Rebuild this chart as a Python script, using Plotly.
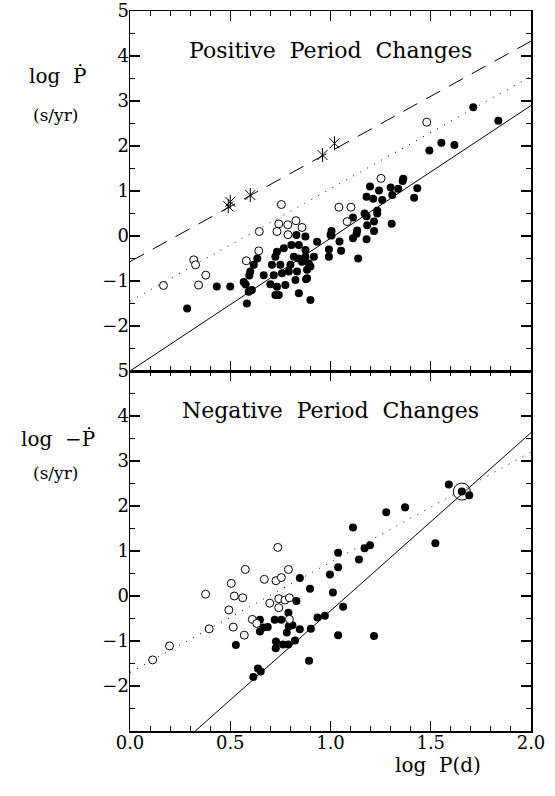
import plotly.graph_objects as go

# ---------------- data ----------------
# Top panel: positive period changes
top_filled_x = [0.285, 0.433, 0.50, 0.567, 0.577, 0.592, 0.608, 0.583, 0.60, 0.595, 0.617, 0.635,
                0.667, 0.70, 0.725, 0.742, 0.733, 0.717, 0.708, 0.725, 0.733, 0.767, 0.75, 0.758,
                0.775, 0.80, 0.792, 0.805, 0.817, 0.833, 0.825, 0.83, 0.842, 0.842, 0.842, 0.875,
                0.875, 0.858, 0.883, 0.883, 0.892, 0.917, 0.90, 0.933, 0.992, 0.992, 1.0, 1.045,
                0.875, 0.90, 0.878,
                1.005, 1.005, 1.053, 1.138, 1.112, 1.13, 1.133, 1.112, 1.18, 1.183, 1.217, 1.217,
                1.17, 1.18, 1.233, 1.233, 1.305, 1.18, 1.197, 1.213, 1.242, 1.258, 1.30, 1.308,
                1.338, 1.363, 1.36, 1.433, 1.417, 1.493, 1.553, 1.618, 1.712, 1.837]
top_filled_y = [-1.61, -1.12, -1.12, -1.02, -1.08, -1.24, -1.20, -1.50, -0.79, -0.88, -0.64, -0.50,
                -0.87, -1.07, -1.31, -1.31, -1.13, -0.87, -0.64, -0.46, -0.35, -0.27, -0.64, -0.83,
                -1.09, -0.64, -0.79, -0.20, -0.46, -0.79, -0.98, 0.02, -0.20, -0.50, -1.27, -0.01,
                -0.46, -0.57, -0.75, -0.94, -0.61, -0.46, -1.42, -0.13, -0.30, -0.46, 0.02, -0.12,
                -0.31, -0.68, -0.96,
                0.11, 0.01, -0.33, -0.50, -0.05, 0.05, 0.12, 0.41, -0.07, 0.24, 0.11, 0.32,
                0.50, 0.44, 0.56, 0.50, 0.27, 0.87, 1.10, 0.83, 1.01, 0.80, 1.08, 0.91,
                1.05, 1.27, 1.22, 1.06, 0.85, 1.90, 2.07, 2.02, 2.86, 2.56]
top_open_x = [0.167, 0.318, 0.327, 0.342, 0.378, 0.58, 0.642, 0.645, 0.733, 0.742, 0.755, 0.787,
              0.788, 0.828, 0.858, 1.042, 1.083, 1.102, 1.252, 1.48]
top_open_y = [-1.10, -0.53, -0.64, -1.09, -0.87, -0.55, -0.33, 0.10, 0.10, 0.27, 0.70, 0.25,
              0.03, 0.34, 0.19, 0.64, 0.32, 0.64, 1.28, 2.53]
top_star_x = [0.49, 0.50, 0.60, 0.96, 1.02]
top_star_y = [0.66, 0.76, 0.91, 1.80, 2.06]

# Bottom panel: negative period changes
bot_filled_x = [0.528, 0.615, 0.638, 0.652, 0.648, 0.648, 0.665, 0.687, 0.722, 0.755, 0.728, 0.727,
                0.763, 0.79, 0.79, 0.782, 0.792, 0.81, 0.823, 0.83, 0.847, 0.847, 0.898, 0.902,
                0.893, 0.935, 0.972, 0.997, 1.012, 1.038, 1.038, 1.038, 1.063, 1.112, 1.142, 1.17,
                1.197, 1.217, 1.278, 1.372, 1.523, 1.59, 1.655, 1.692]
bot_filled_y = [-1.09, -1.80, -1.61, -1.68, -0.53, -0.79, -0.70, -0.69, -0.53, -0.53, -1.01, -1.16,
                -1.08, -1.08, -0.37, -0.81, -0.67, -0.65, -0.99, -0.11, 0.40, -0.74, 0.16, -0.73,
                -1.44, -0.48, -0.44, 0.48, 0.08, 0.64, 0.96, -0.87, -0.24, 1.52, 0.81, 1.06,
                1.13, -0.89, 1.86, 1.97, 1.17, 2.48, 2.32, 2.24]
bot_open_x = [0.113, 0.197, 0.377, 0.395, 0.493, 0.505, 0.515, 0.52, 0.562, 0.57, 0.575, 0.61,
              0.632, 0.67, 0.697, 0.728, 0.737, 0.742, 0.742, 0.755, 0.773, 0.79, 0.795, 0.795]
bot_open_y = [-1.42, -1.11, 0.04, -0.73, -0.31, 0.28, -0.69, 0.0, -0.04, -0.87, 0.59, -0.52,
              -0.61, 0.37, -0.16, 0.34, 1.08, -0.06, -0.26, 0.41, -0.09, 0.59, -0.04, -0.52]
bot_ring_x = [1.655]
bot_ring_y = [2.32]

# Fitted relations (intercept, slope)
top_solid_fit = [-3.0, 2.95]
top_dotted_fit = [-1.45, 2.5]
top_dashed_fit = [-0.57, 2.45]
bot_solid_fit = [-4.29, 3.96]
bot_dotted_fit = [-1.70, 2.45]

x_range = [0.0, 2.0]
y_range = [-3, 5]
y_tickvals = [-2, -1, 0, 1, 2, 3, 4, 5]
x_tickvals = [0.0, 0.5, 1.0, 1.5, 2.0]

FONT = "DejaVu Serif"

fig = go.Figure()


def fit_line(fit, xa, ya, dash):
    xs = x_range
    ys = [fit[0] + fit[1] * v for v in xs]
    fig.add_trace(go.Scatter(x=xs, y=ys, mode="lines", xaxis=xa, yaxis=ya,
                             line=dict(color="black", width=1, dash=dash),
                             hoverinfo="skip", showlegend=False))


# top panel
fit_line(top_solid_fit, "x", "y", "solid")
fit_line(top_dotted_fit, "x", "y", "1px,7px")
fit_line(top_dashed_fit, "x", "y", "16px,10px")
fig.add_trace(go.Scatter(x=top_filled_x, y=top_filled_y, mode="markers", xaxis="x", yaxis="y",
                         marker=dict(symbol="circle", size=8, color="black", line=dict(width=0)),
                         showlegend=False))
fig.add_trace(go.Scatter(x=top_open_x, y=top_open_y, mode="markers", xaxis="x", yaxis="y",
                         marker=dict(symbol="circle", size=8, color="white",
                                     line=dict(width=1, color="black")),
                         showlegend=False))
for sym in ["x-thin-open", "line-ns-open"]:
    fig.add_trace(go.Scatter(x=top_star_x, y=top_star_y, mode="markers", xaxis="x", yaxis="y",
                             marker=dict(symbol=sym, size=10, color="black",
                                         line=dict(width=1, color="black")),
                             showlegend=False))

# bottom panel
fit_line(bot_solid_fit, "x2", "y2", "solid")
fit_line(bot_dotted_fit, "x2", "y2", "1px,7px")
fig.add_trace(go.Scatter(x=bot_filled_x, y=bot_filled_y, mode="markers", xaxis="x2", yaxis="y2",
                         marker=dict(symbol="circle", size=8, color="black", line=dict(width=0)),
                         showlegend=False))
fig.add_trace(go.Scatter(x=bot_open_x, y=bot_open_y, mode="markers", xaxis="x2", yaxis="y2",
                         marker=dict(symbol="circle", size=8, color="white",
                                     line=dict(width=1, color="black")),
                         showlegend=False))
fig.add_trace(go.Scatter(x=bot_ring_x, y=bot_ring_y, mode="markers", xaxis="x2", yaxis="y2",
                         marker=dict(symbol="circle-open", size=17, color="black",
                                     line=dict(width=1, color="black")),
                         showlegend=False))

common_axis = dict(showline=True, linecolor="black", linewidth=1.5, mirror="ticks",
                   ticks="inside", ticklen=10, tickwidth=1.2, tickcolor="black",
                   showgrid=False, zeroline=False, automargin=False,
                   tickfont=dict(family=FONT, size=18, color="black"))

fig.update_layout(
    width=555, height=796,
    margin=dict(l=130, r=24, t=11, b=65),
    paper_bgcolor="white", plot_bgcolor="white",
    font=dict(family=FONT, color="black"),
    xaxis=dict(domain=[0, 1], anchor="y", range=x_range, tickvals=x_tickvals,
               showticklabels=False,
               minor=dict(dtick=0.1, ticks="inside", ticklen=5, tickwidth=1, tickcolor="black"),
               **common_axis),
    yaxis=dict(domain=[0.5, 1], anchor="x", range=y_range, tickvals=y_tickvals,
               ticklabelstandoff=-4,
               minor=dict(dtick=0.5, ticks="inside", ticklen=5, tickwidth=1, tickcolor="black"),
               **common_axis),
    xaxis2=dict(domain=[0, 1], anchor="y2", range=x_range, tickvals=x_tickvals,
                tickformat=".1f", ticklabelstandoff=-5,
                minor=dict(dtick=0.1, ticks="inside", ticklen=5, tickwidth=1, tickcolor="black"),
                **common_axis),
    yaxis2=dict(domain=[0, 0.5], anchor="x2", range=y_range, tickvals=y_tickvals,
                ticklabelstandoff=-4,
                minor=dict(dtick=0.5, ticks="inside", ticklen=5, tickwidth=1, tickcolor="black"),
                **common_axis),
)

ann_font = dict(family=FONT, size=22, color="black")
lab_font = dict(family=FONT, size=20, color="black")
sub_font = dict(family=FONT, size=17, color="black")


# paper coordinates: top panel spans paper y 0.5..1 for data -3..5
def top_py(v):
    return 0.5 + 0.5 * (v - y_range[0]) / (y_range[1] - y_range[0])


def bot_py(v):
    return 0.5 * (v - y_range[0]) / (y_range[1] - y_range[0])


def note(text, x, y, font):
    fig.add_annotation(text=text, x=x, y=y, xref="paper", yref="paper",
                       xanchor="center", yanchor="middle", showarrow=False, font=font)


note("Positive&nbsp; Period&nbsp; Changes", 0.5, top_py(4.13), ann_font)
note("Negative&nbsp; Period&nbsp; Changes", 0.5, bot_py(4.13), ann_font)
note("log&nbsp; Ṗ", -0.182, top_py(3.55), lab_font)
note("(s/yr)", -0.185, top_py(2.7), sub_font)
note("log&nbsp; −Ṗ", -0.18, bot_py(3.5), lab_font)
note("(s/yr)", -0.185, bot_py(2.73), sub_font)
note("log&nbsp; P(d)", 0.7675, -0.047, dict(family=FONT, size=20, color="black"))

fig.write_html("out.html",
               config={"displayModeBar": False, "staticPlot": True},
               post_script="document.body.style.margin='0px';"
                           "document.body.style.overflow='hidden';")
